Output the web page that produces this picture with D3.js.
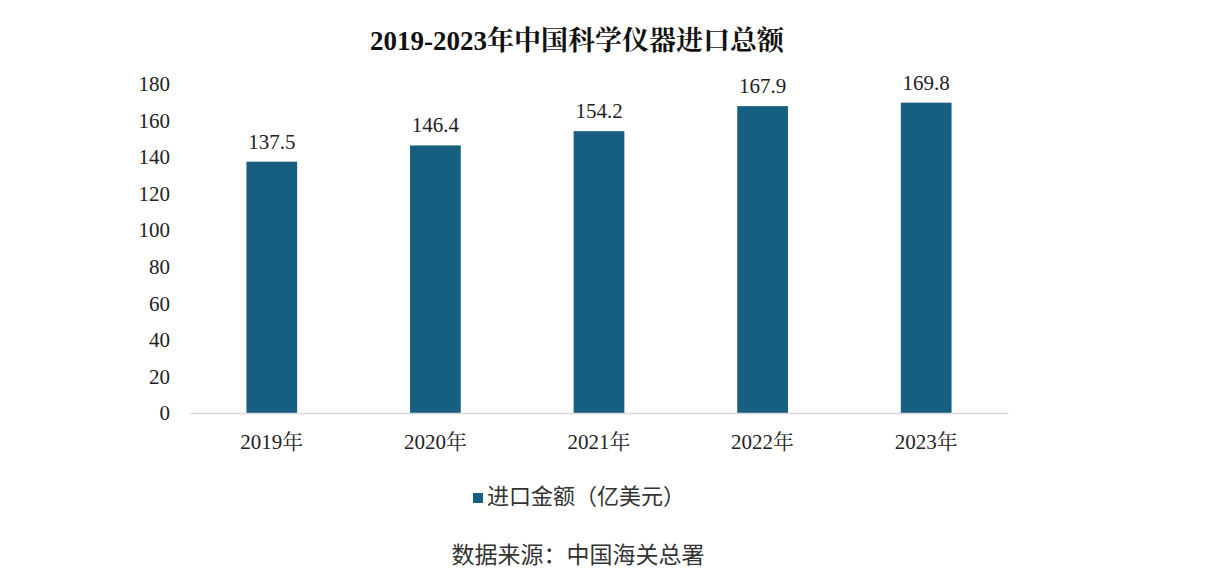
<!DOCTYPE html>
<html>
<head>
<meta charset="utf-8">
<script src="https://cdn.jsdelivr.net/npm/d3@7"></script>
<style>
  body { margin: 0; background: #fff; }
  svg { display: block; }
</style>
</head>
<body>
<div class="chart"></div>
<script>
const years = ["2019年", "2020年", "2021年", "2022年", "2023年"];
const importValues = [137.5, 146.4, 154.2, 167.9, 169.8];
const yTicks = [0, 20, 40, 60, 80, 100, 120, 140, 160, 180];
const title = "2019-2023年中国科学仪器进口总额";
const seriesName = "进口金额（亿美元）";
const source = "数据来源：中国海关总署";

const svg_width = 1211;
const svg_height = 577;
const margin = {top: 84, left: 190, right: 203, bottom: 164};
const chart_width = svg_width - margin.left - margin.right;
const chart_height = svg_height - margin.top - margin.bottom;
const barColor = "#175f80";
const serif = "'Liberation Serif', 'Times New Roman', 'Noto Serif CJK SC', serif";
const cjk = "'Noto Sans CJK SC', sans-serif";

const svg = d3.select(".chart").append("svg")
  .attr("width", svg_width).attr("height", svg_height);

const g = svg.append("g")
  .attr("transform", `translate(${margin.left},${margin.top})`);

const xScale = d3.scaleBand().domain(years)
  .range([0, chart_width])
  .paddingInner(0.69)
  .paddingOuter(0.345);

const yScale = d3.scaleLinear([0, 180], [chart_height, 0]);

// y axis labels
const yAxis = d3.axisLeft(yScale).tickValues(yTicks).tickSize(0).tickPadding(20);
const yAxisDraw = g.append("g").call(yAxis);
yAxisDraw.select(".domain").remove();
yAxisDraw.selectAll("text")
  .style("font-family", serif).style("font-size", "21px").attr("fill", "#222");

// bars
g.selectAll(".bar")
  .data(importValues)
  .enter()
  .append("rect")
  .attr("class", "bar")
  .attr("x", (d, i) => xScale(years[i]))
  .attr("y", d => yScale(d))
  .attr("width", xScale.bandwidth())
  .attr("height", d => chart_height - yScale(d))
  .attr("fill", barColor);

// value labels
g.selectAll(".val")
  .data(importValues)
  .enter()
  .append("text")
  .attr("class", "val")
  .attr("x", (d, i) => xScale(years[i]) + xScale.bandwidth() / 2)
  .attr("y", d => yScale(d) - 13)
  .attr("text-anchor", "middle")
  .style("font-family", serif).style("font-size", "21px").attr("fill", "#222")
  .text(d => d.toFixed(1));

// x axis
const xAxis = d3.axisBottom(xScale).tickSize(0).tickPadding(21);
const xAxisDraw = g.append("g")
  .attr("transform", `translate(0,${chart_height})`)
  .call(xAxis);
xAxisDraw.select(".domain").attr("stroke", "#d9d9d9").attr("stroke-width", 1.5);
xAxisDraw.selectAll("text")
  .style("font-family", serif).style("font-size", "21px").attr("fill", "#222");

// title
svg.append("text")
  .attr("x", 577).attr("y", 50)
  .attr("text-anchor", "middle")
  .style("font-family", serif).style("font-size", "27px").style("font-weight", "bold")
  .attr("fill", "#111")
  .text(title);

// legend
const legend = svg.append("g").attr("transform", "translate(473,504)");
legend.append("rect").attr("x", 0).attr("y", -11).attr("width", 10).attr("height", 10).attr("fill", barColor);
legend.append("text").attr("x", 14).attr("y", 0)
  .style("font-family", cjk).style("font-size", "22px").attr("fill", "#333")
  .text(seriesName);

// source
svg.append("text")
  .attr("x", 578).attr("y", 563)
  .attr("text-anchor", "middle")
  .style("font-family", cjk).style("font-size", "23px").attr("fill", "#333")
  .text(source);
</script>
</body>
</html>
